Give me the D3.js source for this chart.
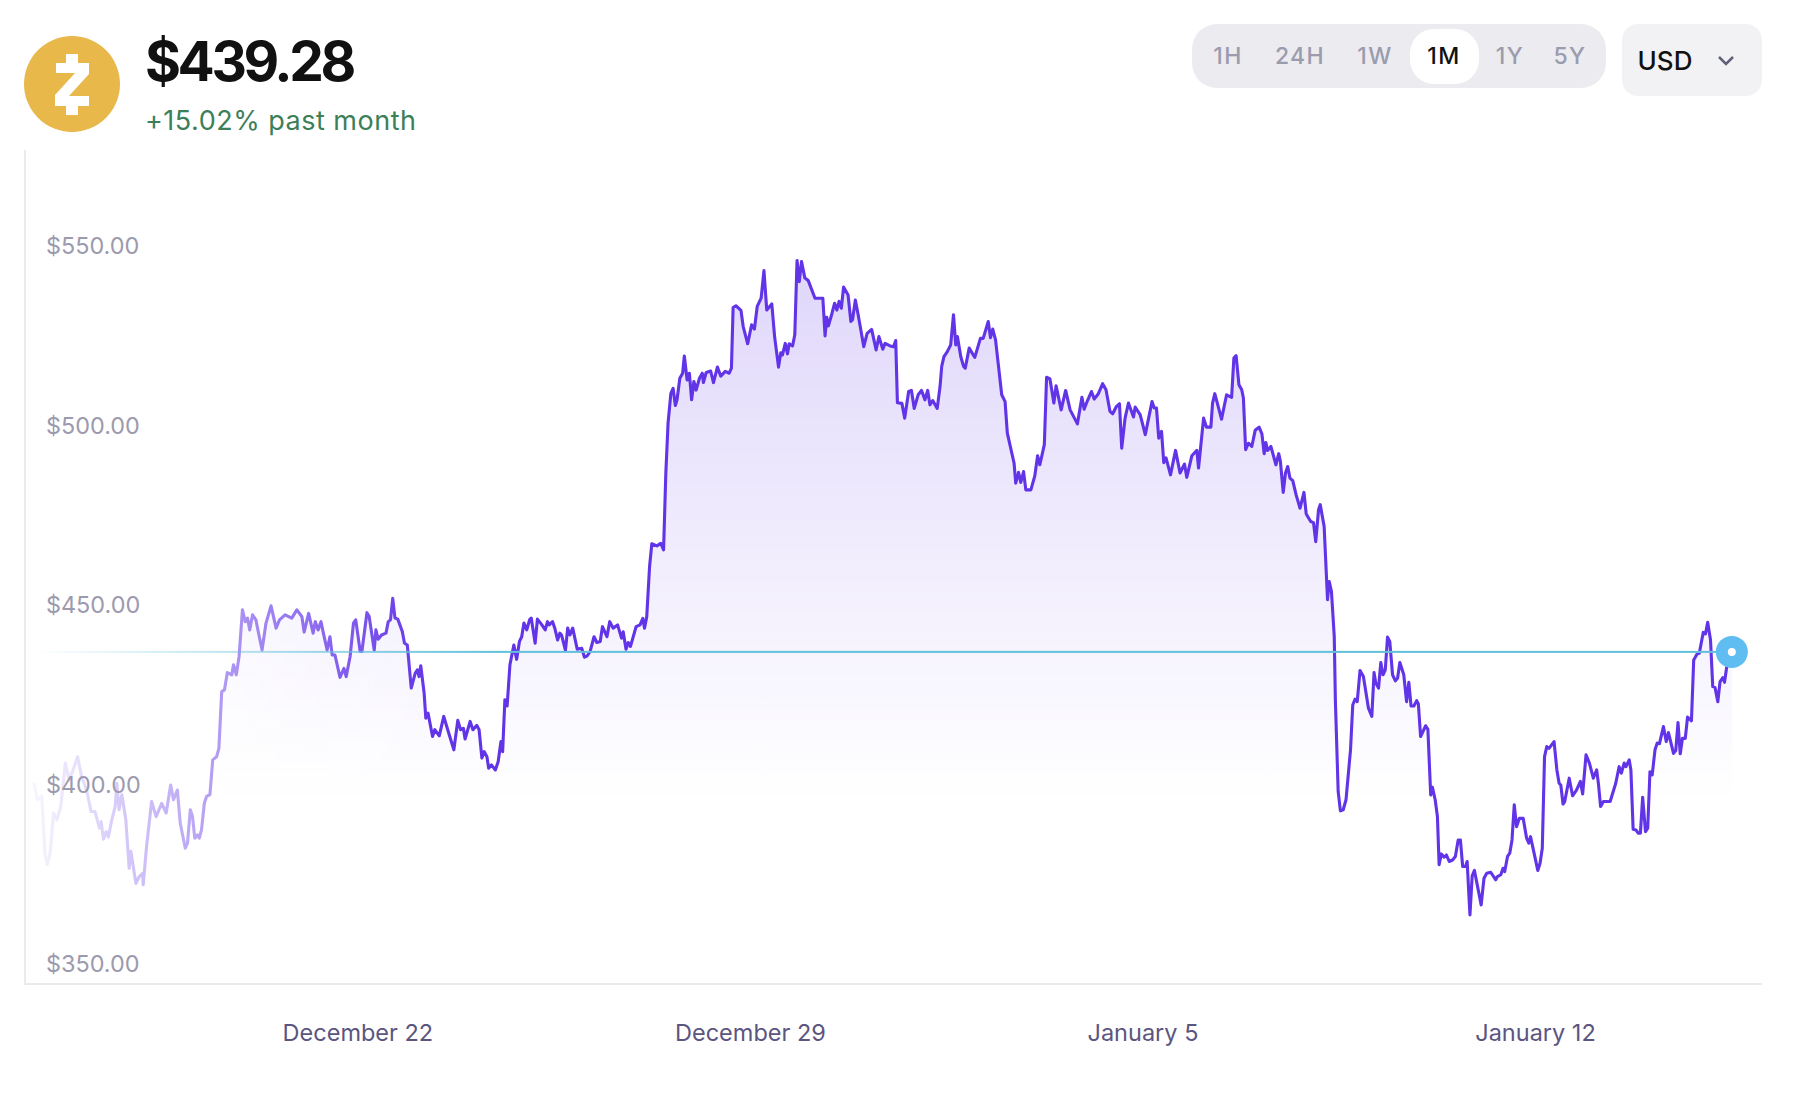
<!DOCTYPE html>
<html>
<head>
<meta charset="utf-8">
<script src="https://cdn.jsdelivr.net/npm/d3@7"></script>
<style>
    body { margin: 0; background: #fff; }
    text { font-family: Inter, "Noto Sans", sans-serif; }
</style>
</head>
<body>
<div id="chart"></div>
<script>
// days counted from December 22, prices in USD
const days = [
    -5.77,-5.71,-5.63,-5.57,-5.53,-5.48,-5.42,-5.36,-5.29,-5.21,-5.14,-5.07,-4.99,-4.92,-4.83,-4.75,-4.68,-4.60,-4.57,-4.53,
    -4.48,-4.44,-4.38,-4.32,-4.29,-4.25,-4.20,-4.13,-4.07,-4.04,-3.95,-3.89,-3.83,-3.82,-3.76,-3.67,-3.59,-3.49,-3.41,-3.33,
    -3.28,-3.21,-3.16,-3.07,-3.03,-2.98,-2.94,-2.90,-2.85,-2.82,-2.78,-2.73,-2.69,-2.63,-2.58,-2.51,-2.47,-2.42,-2.37,-2.32,
    -2.24,-2.21,-2.16,-2.11,-2.05,-2.00,-1.96,-1.92,-1.87,-1.81,-1.75,-1.70,-1.63,-1.54,-1.45,-1.39,-1.29,-1.17,-1.08,-0.99,
    -0.95,-0.87,-0.79,-0.75,
    -0.70,-0.65,-0.60,-0.54,-0.49,-0.45,-0.40,-0.31,-0.24,-0.20,-0.13,-0.07,-0.03,0.05,0.08,0.17,0.21,0.30,0.33,0.37,
    0.43,0.51,0.55,0.59,0.63,0.67,0.72,0.80,0.84,0.89,0.96,1.03,1.07,1.10,1.13,1.19,1.22,1.26,1.34,1.38,
    1.46,1.54,1.62,1.72,1.79,1.84,1.89,1.92,2.01,2.06,2.13,2.17,2.22,2.26,2.31,2.34,2.39,2.46,2.51,2.56,
    2.59,2.63,2.67,2.72,2.79,2.84,2.89,2.93,2.97,3.02,3.07,3.10,3.17,3.21,3.28,3.35,3.39,3.42,3.48,3.52,
    3.57,3.61,3.64,3.71,3.75,3.79,3.84,3.92,4.00,4.05,4.10,4.15,4.22,4.27,4.33,
    4.37,4.45,4.50,4.56,4.64,4.71,4.74,4.79,4.83,4.87,4.97,5.04,5.09,5.12,5.16,5.21,5.25,5.34,5.41,5.46,
    5.50,5.54,5.59,5.63,5.67,5.70,5.75,5.80,5.83,5.88,5.92,5.96,6.00,6.04,6.10,6.15,6.17,6.22,6.30,6.35,
    6.42,6.48,6.56,6.63,6.67,6.70,6.75,6.84,6.88,6.96,7.03,7.08,7.13,7.20,7.25,7.30,7.39,7.44,7.51,7.55,
    7.58,7.63,7.67,7.70,7.76,7.80,7.84,7.88,7.92,7.98,8.04,8.16,8.30,8.34,8.37,8.40,8.46,8.51,8.55,8.59,
    8.63,8.67,8.75,8.80,8.83,8.88,8.93,9.03,9.09,9.17,9.25,9.30,9.37,9.41,9.50,9.56,9.60,9.63,9.71,9.76,
    9.83,9.88,9.93,10.00,10.06,10.12,10.17,10.21,10.26,10.34,10.39,10.42,10.46,10.52,10.58,10.63,10.67,10.70,10.76,10.81,
    10.84,10.91,11.01,11.11,11.16,11.25,11.29,11.33,11.38,11.42,
    11.49,11.55,11.59,11.71,11.74,11.79,11.83,11.88,11.92,12.01,12.08,12.13,12.17,12.25,12.29,12.35,12.42,12.46,12.55,12.63,
    12.71,12.84,12.92,12.96,13.02,13.09,13.14,13.21,13.29,13.35,13.42,13.47,13.53,13.59,13.63,13.69,13.75,13.84,13.87,13.96,
    14.05,14.17,14.21,14.25,14.29,14.34,14.38,14.42,14.50,14.59,14.67,14.75,14.79,14.88,14.97,15.00,15.09,15.14,15.22,15.25,
    15.29,15.41,15.50,15.59,15.63,15.67,15.72,15.77,15.80,15.84,15.89,15.95,16.01,16.08,16.13,16.17,16.20,16.23,16.29,16.38,
    16.43,16.46,16.51,16.55,16.59,16.63,16.68,16.74,16.81,16.88,16.92,17.00,17.05,17.09,17.14,17.17,17.24,17.30,17.33,17.37,17.42,
    17.44,17.49,17.53,17.58,17.63,17.71,17.75,17.79,17.83,17.88,17.94,18.03,18.09,18.13,18.16,18.21,18.25,18.29,18.33,18.37,
    18.41,18.46,18.51,18.55,18.59,18.66,18.71,18.75,18.79,18.84,18.89,18.92,18.96,19.05,19.09,19.14,19.17,19.22,19.26,19.29,
    19.33,19.38,19.42,19.47,19.53,19.58,19.63,19.67,19.71,19.76,19.79,19.84,19.88,19.92,20.04,20.09,20.14,20.21,20.30,20.33,
    20.39,20.43,20.46,20.51,20.55,20.59,20.63,20.67,20.72,20.79,20.85,20.89,20.92,21.05,21.09,21.13,21.17,21.21,21.25,21.34,
    21.39,21.43,21.46,21.50,21.53,21.61,21.67,21.74,21.81,21.85,21.91,21.97,22.04,22.10,22.13,22.17,22.22,22.34,22.44,22.50,
    22.54,22.59,22.62,22.68,22.71,22.75,22.80,22.84,22.88,22.92,22.97,23.01,23.05,23.09,23.14,23.18,23.22,23.29,23.34,23.38,
    23.47,23.51,23.55,23.59,23.63,23.68,23.72,23.79,23.83,23.89,23.93,24.00,24.04,24.08,24.13,24.17,24.21,24.26,24.30,24.35,
    24.38,24.42,24.51
];
const prices = [
    402.9,398.1,399.0,382.8,380.0,383.2,394.4,392.5,396.2,408.3,403.6,406.4,410.1,404.6,400.8,394.8,394.8,390.2,392.0,387.1,
    389.2,387.7,392.5,396.2,402.7,395.3,399.5,392.5,379.0,383.7,374.8,376.7,377.6,374.4,385.1,397.6,393.4,397.1,394.4,402.2,
    398.1,400.8,391.6,384.6,386.0,395.3,393.4,387.4,388.3,387.4,389.7,397.1,399.0,399.5,409.2,410.1,412.4,428.2,428.7,433.5,
    432.9,435.7,432.9,438.0,451.0,447.7,448.7,445.4,449.6,448.2,443.5,439.8,447.3,452.1,445.9,448.2,449.6,448.7,451.0,449.1,
    444.8,450.0,444.5,447.7,
    445.4,447.7,444.0,439.8,443.5,438.4,438.4,432.2,434.7,432.4,438.0,447.3,448.2,439.4,439.4,450.2,449.1,439.8,445.4,442.8,
    444.0,444.5,447.7,448.2,454.2,448.7,448.4,445.0,441.7,441.2,429.2,433.3,434.3,432.4,435.4,427.8,420.8,422.2,415.7,417.6,
    415.9,421.3,417.1,412.0,420.2,417.6,418.0,415.0,419.9,417.6,418.8,417.6,409.7,411.5,410.1,406.9,407.8,406.4,408.7,414.3,
    411.5,425.9,424.2,435.7,441.2,437.2,442.2,443.5,447.3,445.4,448.2,448.7,441.7,448.4,447.0,445.4,447.7,446.8,447.7,445.9,
    442.6,444.5,444.0,439.7,445.9,444.0,445.9,440.0,440.3,437.8,438.2,439.4,443.5,441.9,442.2,
    446.3,443.5,447.7,445.9,446.8,443.1,444.9,440.0,441.9,440.8,446.3,446.8,448.6,445.9,449.1,463.0,469.4,468.8,469.5,467.7,
    489.0,503.0,511.3,512.7,507.9,509.5,515.5,516.9,521.7,515.0,516.9,509.5,514.6,512.2,515.5,516.9,514.3,517.1,517.5,514.3,
    518.6,516.1,517.4,516.9,518.3,535.2,535.7,534.4,529.9,525.1,530.4,529.2,535.5,537.8,545.5,534.5,536.2,527.1,518.6,522.6,
    522.0,525.2,522.3,525.1,524.5,527.6,548.3,542.4,548.0,543.4,542.7,537.8,537.8,527.3,532.5,530.1,533.4,536.4,534.5,536.9,
    535.0,540.9,538.7,531.3,531.8,537.3,533.2,524.3,528.0,529.1,523.4,527.1,523.6,525.2,524.5,524.3,526.0,508.7,508.5,504.4,
    511.8,512.1,507.1,510.9,512.1,509.5,512.1,508.1,509.3,507.1,513.2,518.8,521.5,522.9,524.8,533.2,524.8,527.1,521.5,518.8,
    518.3,523.9,521.3,526.6,526.6,531.3,526.8,529.2,526.2,520.6,
    510.9,509.0,500.2,491.9,486.3,489.3,486.5,489.5,484.4,484.4,488.3,493.9,491.4,497.0,515.8,515.3,508.6,513.4,506.7,512.1,
    506.7,502.8,510.2,506.9,509.3,511.8,509.7,511.1,514.0,512.3,506.3,505.6,507.5,508.4,496.0,504.4,508.6,504.7,507.5,505.3,
    499.8,509.0,507.2,507.2,498.8,500.7,492.0,493.3,488.6,495.4,489.1,491.6,487.9,493.9,495.4,490.5,504.4,501.9,501.9,508.6,
    511.2,504.1,510.9,510.2,521.1,521.8,513.7,512.3,510.0,495.6,497.4,496.5,501.0,501.9,500.0,494.5,497.6,495.4,496.5,491.4,
    494.5,492.3,483.7,489.1,490.9,487.7,487.0,483.0,479.3,483.7,477.7,475.6,475.3,470.0,478.9,480.3,474.2,453.8,458.9,456.1,443.6,
    425.9,400.4,395.0,395.3,398.1,412.0,424.5,426.1,425.4,434.1,432.4,423.6,421.3,433.5,430.6,429.2,436.3,432.9,434.3,443.4,
    442.2,432.9,431.2,432.0,436.3,432.9,425.4,430.8,424.2,424.2,425.7,424.8,415.7,418.7,417.7,399.4,401.6,398.1,393.4,380.0,
    383.0,382.1,382.7,380.9,381.3,382.3,386.9,386.9,379.5,379.5,380.9,366.0,376.9,378.4,368.8,376.2,377.6,377.9,375.8,376.7,
    377.2,379.0,378.1,382.3,383.2,386.9,396.7,390.6,392.9,392.9,387.4,386.0,387.8,378.4,380.4,384.6,410.1,412.9,412.4,414.3,
    406.4,402.7,402.2,396.9,397.6,404.1,399.2,400.8,403.2,399.7,410.6,408.3,404.1,406.4,402.7,396.2,397.6,397.6,402.7,407.3,
    405.5,408.3,407.3,409.2,406.4,389.9,389.7,388.8,388.8,398.8,389.2,390.2,405.9,405.0,412.0,413.9,413.7,418.5,414.3,416.8,
    411.0,411.8,419.6,410.9,415.2,415.2,421.1,420.1,437.0,438.7,438.9,444.7,444.3,447.5,442.6,429.6,429.4,425.4,431.0,432.1,
    430.8,435.2,439.28
];

const yTicks = [350, 400, 450, 500, 550];
const xTickDays = [0, 7, 14, 21];
const xTickLabels = ['December 22', 'December 29', 'January 5', 'January 12'];
const ranges = ['1H', '24H', '1W', '1M', '1Y', '5Y'];
const rangeCenters = [1228, 1300, 1375, 1444, 1510, 1570];
const activeRange = '1M';

const price = '$439.28';
const change = '+15.02% past month';

const width = 1796;
const height = 1102;

const x = d3.scaleLinear().domain([0, 21]).range([357.4, 1535]);
const y = d3.scaleLinear().domain([350, 550]).range([972.4, 254.4]);

const points = days.map((d, i) => [d, prices[i]]);
const last = points[points.length - 1];

const svg = d3.select('#chart')
    .append('svg')
    .attr('width', width)
    .attr('height', height)
    .style('display', 'block');

const defs = svg.append('defs');

// fill under the line fades out going down
const areaGrad = defs.append('linearGradient')
    .attr('id', 'area-fade')
    .attr('gradientUnits', 'userSpaceOnUse')
    .attr('x1', 0).attr('x2', 0)
    .attr('y1', y(550)).attr('y2', 800);
areaGrad.append('stop').attr('offset', 0).attr('stop-color', '#6234e8').attr('stop-opacity', 0.2);
areaGrad.append('stop').attr('offset', 1).attr('stop-color', '#6234e8').attr('stop-opacity', 0);

// the first days of the series fade in from the left
const maskGrad = defs.append('linearGradient')
    .attr('id', 'left-fade-grad')
    .attr('gradientUnits', 'userSpaceOnUse')
    .attr('x1', x(days[0])).attr('x2', 430)
    .attr('y1', 0).attr('y2', 0);
maskGrad.append('stop').attr('offset', 0).attr('stop-color', '#fff').attr('stop-opacity', 0.05);
maskGrad.append('stop').attr('offset', 1).attr('stop-color', '#fff').attr('stop-opacity', 1);
defs.append('mask')
    .attr('id', 'left-fade')
    .attr('maskUnits', 'userSpaceOnUse')
    .attr('x', 0).attr('y', 0).attr('width', width).attr('height', height)
    .append('rect')
    .attr('width', width).attr('height', height)
    .attr('fill', 'url(#left-fade-grad)');

// current price line, same idea but in cyan
const priceGrad = defs.append('linearGradient')
    .attr('id', 'price-fade')
    .attr('gradientUnits', 'userSpaceOnUse')
    .attr('x1', x(days[0])).attr('x2', 500)
    .attr('y1', 0).attr('y2', 0);
priceGrad.append('stop').attr('offset', 0).attr('stop-color', '#62c0dc').attr('stop-opacity', 0);
priceGrad.append('stop').attr('offset', 1).attr('stop-color', '#62c0dc').attr('stop-opacity', 1);

// header: coin icon
svg.append('circle')
    .attr('cx', 72).attr('cy', 84).attr('r', 48)
    .attr('fill', '#e8b84b');
svg.append('path')
    .attr('fill', '#fff')
    .attr('d', 'M66,54H78V63H89V74L69,96H89V106H78V115H66V106H55V95L75,73H56V63H66Z');

svg.append('text')
    .attr('x', 145).attr('y', 81)
    .attr('font-size', 55).attr('font-weight', 700)
    .attr('letter-spacing', -3.4)
    .attr('fill', '#111')
    .text(price);

svg.append('text')
    .attr('x', 145).attr('y', 130)
    .attr('font-size', 27)
    .attr('letter-spacing', 0.5)
    .attr('fill', '#3c7f58')
    .text(change);

// range switch
svg.append('rect')
    .attr('x', 1192).attr('y', 24).attr('width', 414).attr('height', 64).attr('rx', 25)
    .attr('fill', '#ebebf0');
svg.append('rect')
    .attr('x', 1410).attr('y', 29).attr('width', 69).attr('height', 55).attr('rx', 24)
    .attr('fill', '#fff');
svg.selectAll('.range')
    .data(ranges)
    .join('text')
    .attr('class', 'range')
    .attr('x', (d, i) => rangeCenters[i])
    .attr('y', 64)
    .attr('text-anchor', 'middle')
    .attr('font-size', 23)
    .attr('font-weight', 500)
    .attr('letter-spacing', 1.4)
    .attr('fill', d => d === activeRange ? '#111' : '#9b9bae')
    .text(d => d);

// currency select
svg.append('rect')
    .attr('x', 1622).attr('y', 24).attr('width', 140).attr('height', 72).attr('rx', 16)
    .attr('fill', '#f2f2f5');
svg.append('text')
    .attr('x', 1665).attr('y', 70)
    .attr('text-anchor', 'middle')
    .attr('font-size', 26)
    .attr('font-weight', 500)
    .attr('fill', '#111')
    .text('USD');
svg.append('path')
    .attr('d', 'M1719,57L1726,64L1733,57')
    .attr('fill', 'none')
    .attr('stroke', '#5f5f78')
    .attr('stroke-width', 2.5);

// chart frame
svg.append('path')
    .attr('d', `M25,150V${984}H1762`)
    .attr('fill', 'none')
    .attr('stroke', '#ebebee')
    .attr('stroke-width', 2);

// series
const area = d3.area()
    .x(d => x(d[0]))
    .y0(984)
    .y1(d => y(d[1]));
const line = d3.line()
    .x(d => x(d[0]))
    .y(d => y(d[1]));

const series = svg.append('g').attr('mask', 'url(#left-fade)');
series.append('path')
    .attr('d', area(points))
    .attr('fill', 'url(#area-fade)');
series.append('path')
    .attr('d', line(points))
    .attr('fill', 'none')
    .attr('stroke', '#6234e8')
    .attr('stroke-width', 3.1)
    .attr('stroke-linejoin', 'round');

// current price marker
svg.append('rect')
    .attr('x', x(days[0]))
    .attr('y', y(last[1]) - 1)
    .attr('width', x(last[0]) - x(days[0]))
    .attr('height', 2)
    .attr('fill', 'url(#price-fade)');
svg.append('circle')
    .attr('cx', x(last[0])).attr('cy', y(last[1])).attr('r', 16)
    .attr('fill', '#5fbdf2');
svg.append('circle')
    .attr('cx', x(last[0])).attr('cy', y(last[1])).attr('r', 4)
    .attr('fill', '#fff');

// axes, labels sit just above their value
const yAxis = d3.axisRight(y)
    .tickValues(yTicks)
    .tickSize(0)
    .tickPadding(0)
    .tickFormat(d => '$' + d3.format('.2f')(d));
const yG = svg.append('g')
    .attr('transform', 'translate(46,0)')
    .call(yAxis);
yG.select('.domain').remove();
yG.selectAll('text')
    .attr('dy', -0.5)
    .style('font-family', 'Inter, "Noto Sans", sans-serif')
    .style('font-size', '23.4px')
    .style('fill', '#9c9aae');

const xAxis = d3.axisBottom(x)
    .tickValues(xTickDays)
    .tickSize(0)
    .tickPadding(0)
    .tickFormat((d, i) => xTickLabels[i]);
const xG = svg.append('g')
    .attr('transform', 'translate(0,984)')
    .call(xAxis);
xG.select('.domain').remove();
xG.selectAll('text')
    .attr('y', 57)
    .attr('dy', 0)
    .style('font-family', 'Inter, "Noto Sans", sans-serif')
    .style('font-size', '23.5px')
    .style('fill', '#5b5580');
</script>
</body>
</html>
